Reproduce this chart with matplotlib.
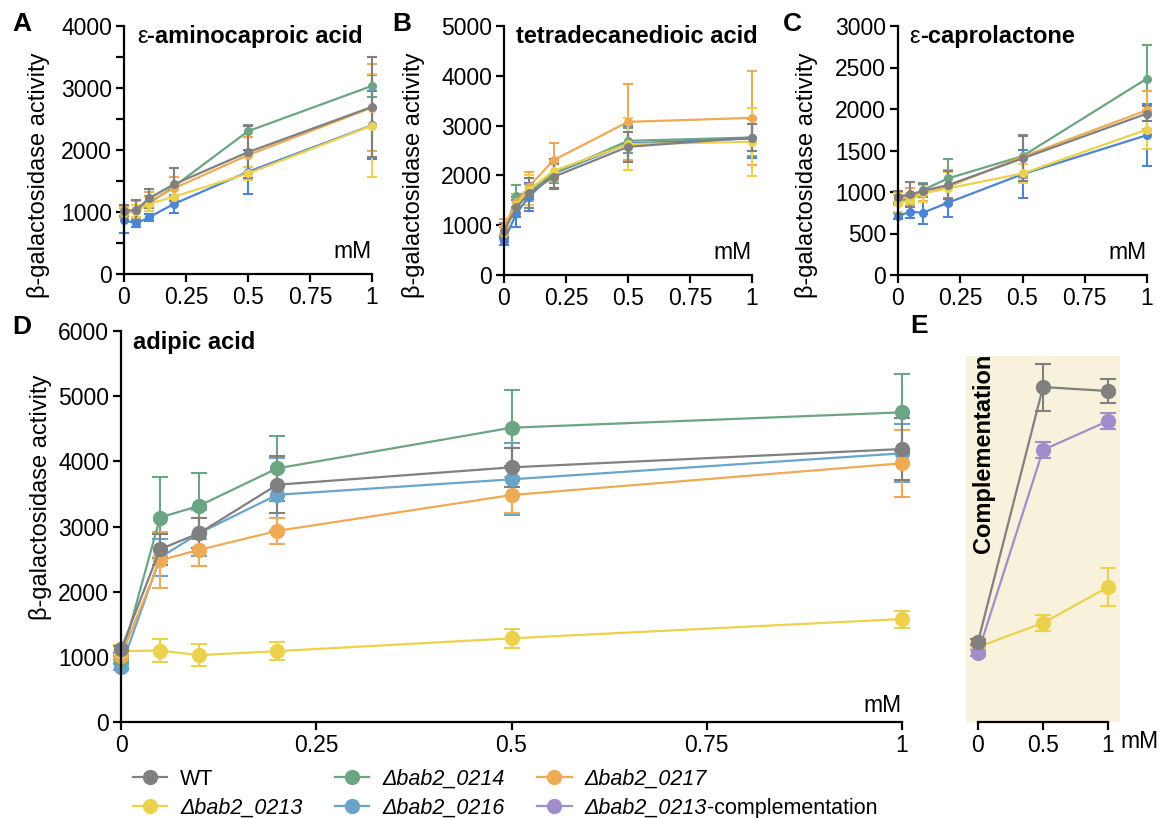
"""Beta-galactosidase activity of the bab2 deletion strains grown with different inducers."""

import matplotlib

matplotlib.use("Agg")
import matplotlib.pyplot as plt
import matplotlib.axes as mpla  # just for type hints
from matplotlib.ticker import MultipleLocator

plt.rcParams["font.family"] = ["Liberation Sans", "DejaVu Sans"]
plt.rcParams["font.size"] = 16.5
plt.rcParams["axes.linewidth"] = 1.6
plt.rcParams["xtick.major.width"] = 1.6
plt.rcParams["ytick.major.width"] = 1.6
plt.rcParams["ytick.minor.width"] = 1.6
plt.rcParams["xtick.major.size"] = 5.5
plt.rcParams["ytick.major.size"] = 5.5
plt.rcParams["ytick.minor.size"] = 5.5

W, H = 1162, 818

# concentrations (mM)
CONC = [0, 0.05, 0.1, 0.2, 0.5, 1]
CONC_E = [0, 0.5, 1]

STRAINS = ["WT", "0213", "0214", "0216", "0217", "comp"]
LEGEND_LABELS = ["WT", "Δbab2_0213", "Δbab2_0214", "Δbab2_0216", "Δbab2_0217", "Δbab2_0213"]
COLORS = {
    "WT": "#808080",
    "0213": "#ecd24c",
    "0214": "#6ca584",
    "0216": "#6aa4cb",
    "0217": "#eeaa55",
    "comp": "#a08ecb",
}
BLUE_SMALL = "#4c84d6"  # the 0216 strain looks brighter in the small panels

# A: e-aminocaproic acid
AMINO_MEAN = {
    "WT": [1020, 1031, 1219, 1444, 1965, 2695],
    "0213": [977, 1020, 1128, 1246, 1621, 2395],
    "0214": [977, 1015, 1138, 1407, 2303, 3034],
    "0216": [870, 816, 913, 1128, 1648, 2400],
    "0217": [1004, 1031, 1165, 1380, 1917, 2685],
}
AMINO_SD = {
    "WT": [90, 160, 150, 260, 420, 800],
    "0213": [80, 100, 110, 120, 100, 830],
    "0214": [80, 100, 120, 150, 100, 180],
    "0216": [215, 60, 60, 150, 350, 550],
    "0217": [90, 140, 150, 190, 300, 700],
}

# B: tetradecanedioic acid
TETRA_MEAN = {
    "WT": [889, 1357, 1638, 1972, 2574, 2761],
    "0213": [836, 1404, 1705, 2092, 2627, 2674],
    "0214": [836, 1584, 1671, 2039, 2694, 2761],
    "0216": [688, 1237, 1571, 2039, 2640, 2741],
    "0217": [970, 1470, 1771, 2306, 3075, 3155],
}
TETRA_SD = {
    "WT": [150, 200, 300, 250, 300, 270],
    "0213": [150, 200, 300, 200, 520, 680],
    "0214": [120, 220, 150, 200, 250, 380],
    "0216": [90, 270, 280, 300, 350, 390],
    "0217": [150, 150, 290, 350, 760, 950],
}

# C: e-caprolactone
CAPRO_MEAN = {
    "WT": [943, 971, 1015, 1083, 1404, 1945],
    "0213": [862, 903, 983, 1043, 1223, 1753],
    "0214": [903, 903, 1023, 1163, 1432, 2367],
    "0216": [710, 762, 750, 870, 1215, 1685],
    "0217": [923, 943, 991, 1063, 1424, 1986],
}
CAPRO_SD = {
    "WT": [70, 150, 80, 170, 270, 90],
    "0213": [100, 80, 100, 200, 120, 230],
    "0214": [60, 70, 80, 240, 250, 400],
    "0216": [40, 80, 130, 175, 290, 370],
    "0217": [80, 100, 100, 200, 250, 230],
}

# D: adipic acid
ADIPIC_MEAN = {
    "WT": [1113, 2651, 2897, 3641, 3908, 4189],
    "0213": [1087, 1097, 1026, 1087, 1284, 1580],
    "0214": [960, 3138, 3318, 3892, 4516, 4752],
    "0216": [841, 2523, 2897, 3487, 3724, 4123],
    "0217": [1010, 2482, 2641, 2933, 3483, 3970],
}
ADIPIC_SD = {
    "WT": [60, 240, 230, 440, 300, 480],
    "0213": [100, 180, 170, 140, 145, 130],
    "0214": [60, 620, 510, 500, 580, 590],
    "0216": [50, 290, 350, 560, 555, 445],
    "0217": [60, 430, 240, 200, 270, 515],
}

# E: complementation with adipic acid
COMP_MEAN = {
    "WT": [1228, 5140, 5079],
    "0213": [1151, 1519, 2071],
    "comp": [1059, 4174, 4619],
}
COMP_SD = {
    "WT": [50, 360, 180],
    "0213": [40, 120, 290],
    "comp": [40, 120, 120],
}

DRAW_ORDER = ["0216", "0214", "0217", "0213", "comp", "WT"]


def px_axes(fig: plt.Figure, left: float, top: float, right: float, bottom: float) -> mpla.Axes:
    """Adds an axes given its corners in pixels of the reference picture."""
    return fig.add_axes([left / W, 1 - bottom / H, (right - left) / W, (bottom - top) / H])


def draw_series(ax: mpla.Axes, x: list, means: dict, sds: dict, small: bool) -> None:
    """Draws every strain of a panel as a line with error bars."""
    for strain in DRAW_ORDER:
        if strain not in means:
            continue
        color = COLORS[strain]
        if small and strain == "0216":
            color = BLUE_SMALL
        cont = ax.errorbar(
            x,
            means[strain],
            yerr=sds[strain],
            color=color,
            marker="o",
            ms=5.5 if small else 10,
            lw=1.6,
            elinewidth=1.5,
            capsize=3.5 if small else 5.5,
            capthick=1.5,
        )
        for art in cont.get_children():
            art.set_clip_on(False)


def style_axes(ax: mpla.Axes) -> None:
    ax.spines["top"].set_visible(False)
    ax.spines["right"].set_visible(False)
    ax.tick_params(axis="both", which="both", direction="out", pad=3)


def eps_title(ax: mpla.Axes, rest: str, x: float, y: float) -> None:
    """Writes a normal weight epsilon followed by bold text."""
    eps = ax.text(x, y, "ε", transform=ax.transAxes, ha="left", va="baseline", fontsize=17)
    renderer = ax.figure.canvas.get_renderer()
    bb = eps.get_window_extent(renderer=renderer)
    x_end = ax.transAxes.inverted().transform((bb.x1, bb.y0))[0]
    ax.text(x_end, y, rest, transform=ax.transAxes, ha="left", va="baseline",
            fontsize=17, fontweight="bold")


def small_panel(ax: mpla.Axes, means: dict, sds: dict, ymax: int, major: int, minor: int) -> None:
    style_axes(ax)
    draw_series(ax, CONC, means, sds, small=True)
    ax.set_xlim(0, 1)
    ax.set_ylim(0, ymax)
    ax.set_xticks([0, 0.25, 0.5, 0.75, 1])
    ax.set_xticklabels(["0", "0.25", "0.5", "0.75", "1"])
    ax.yaxis.set_major_locator(MultipleLocator(major))
    if minor:
        ax.yaxis.set_minor_locator(MultipleLocator(minor))
    ax.set_ylabel("β-galactosidase activity", fontsize=17)
    ax.text(1.0, 0.045, "mM", transform=ax.transAxes, ha="right", va="bottom")


def main() -> None:
    fig = plt.figure(figsize=(W / 100, H / 100), dpi=100)

    ax_a = px_axes(fig, 124, 26, 372, 274)
    ax_b = px_axes(fig, 504, 26, 752, 275)
    ax_c = px_axes(fig, 898, 26, 1147, 275)
    ax_d = px_axes(fig, 121, 331, 902, 722)
    ax_e = px_axes(fig, 966, 356, 1120, 722)

    small_panel(ax_a, AMINO_MEAN, AMINO_SD, 4000, 1000, 500)
    small_panel(ax_b, TETRA_MEAN, TETRA_SD, 5000, 1000, 0)
    small_panel(ax_c, CAPRO_MEAN, CAPRO_SD, 3000, 500, 0)
    ax_a.yaxis.set_label_coords(-0.298, 0.40)
    ax_b.yaxis.set_label_coords(-0.319, 0.40)
    ax_c.yaxis.set_label_coords(-0.321, 0.40)

    eps_title(ax_a, "-aminocaproic acid", 0.052, 0.93)
    ax_b.text(0.05, 0.93, "tetradecanedioic acid", transform=ax_b.transAxes,
              ha="left", va="baseline", fontsize=17, fontweight="bold")
    eps_title(ax_c, "-caprolactone", 0.045, 0.93)

    # D adipic acid
    style_axes(ax_d)
    draw_series(ax_d, CONC, ADIPIC_MEAN, ADIPIC_SD, small=False)
    ax_d.set_xlim(0, 1)
    ax_d.set_ylim(0, 6000)
    ax_d.set_xticks([0, 0.25, 0.5, 0.75, 1])
    ax_d.set_xticklabels(["0", "0.25", "0.5", "0.75", "1"])
    ax_d.yaxis.set_major_locator(MultipleLocator(1000))
    ax_d.set_ylabel("β-galactosidase activity", fontsize=17)
    ax_d.yaxis.set_label_coords(-0.088, 0.575)
    ax_d.text(0.016, 0.955, "adipic acid", transform=ax_d.transAxes,
              ha="left", va="baseline", fontsize=17, fontweight="bold")
    ax_d.text(1.0, 0.012, "mM", transform=ax_d.transAxes, ha="right", va="bottom")

    # E complementation
    ax_e.set_facecolor("#f8f2dc")
    for side in ["top", "right", "left"]:
        ax_e.spines[side].set_visible(False)
    ax_e.spines["bottom"].set_bounds(0, 1)
    draw_series(ax_e, CONC_E, COMP_MEAN, COMP_SD, small=False)
    ax_e.set_xlim(-0.092, 1.092)
    ax_e.set_ylim(0, 366 / 391 * 6000)
    ax_e.set_yticks([])
    ax_e.set_xticks([0, 0.5, 1])
    ax_e.set_xticklabels(["0", "0.5", "1"])
    ax_e.tick_params(axis="x", direction="out", pad=3)
    ax_e.text(1.0, -0.023, "mM", transform=ax_e.transAxes, ha="left", va="top")
    ax_e.text(0.04, 0.735, "Complementation", rotation=90, ha="center", va="center",
              fontsize=17, fontweight="bold", transform=ax_e.get_xaxis_transform())

    # panel letters
    for letter, (px, py) in {"A": (12, 24), "B": (392, 24), "C": (783, 24),
                             "D": (12, 327), "E": (910, 326)}.items():
        fig.text(px / W, 1 - py / H, letter, ha="left", va="center",
                 fontsize=19, fontweight="bold")

    handles = [
        plt.Line2D([], [], color=COLORS[s], marker="o", ms=10, lw=1.6) for s in STRAINS
    ]
    leg = fig.legend(
        handles,
        LEGEND_LABELS,
        ncol=3,
        loc="upper left",
        bbox_to_anchor=(133 / W, 1 - 769 / H),
        frameon=False,
        fontsize=15.5,
        borderpad=0,
        borderaxespad=0,
        handlelength=1.6,
        handletextpad=0.6,
        columnspacing=1.5,
        labelspacing=0.35,
    )
    texts = leg.get_texts()
    for txt in texts[1:]:
        txt.set_fontstyle("italic")

    # the complementation label mixes italic and upright text
    fig.canvas.draw()
    comp_txt = texts[5]
    bb = comp_txt.get_window_extent()
    anchor = comp_txt.get_transform().transform(comp_txt.get_position())
    fig.text(bb.x1 / W, anchor[1] / H, "-complementation", ha="left",
             va=comp_txt.get_va(), fontsize=15.5)

    fig.savefig("out.png", dpi=100)


if __name__ == "__main__":
    main()
